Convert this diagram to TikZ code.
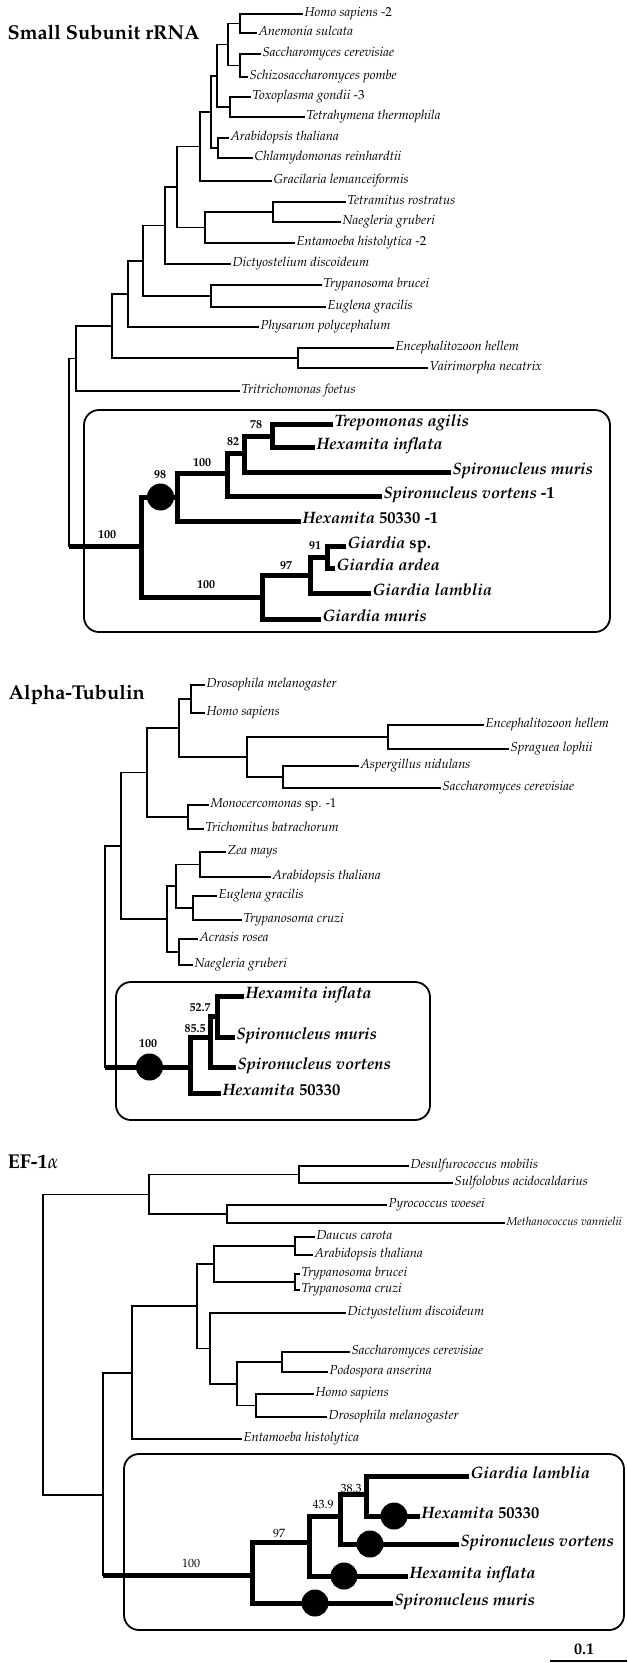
\documentclass[tikz,border=0pt]{standalone}
\usepackage[T1]{fontenc}
\usepackage{mathpazo}
\tikzset{
  leaf/.style={anchor=west,inner sep=1pt,text height=1.3ex,text depth=.3ex,
    font=\fontsize{13}{15}\selectfont\itshape},
  dipleaf/.style={leaf,font=\fontsize{16.5}{18}\selectfont\bfseries\itshape},
  boot/.style={inner sep=0pt,font=\fontsize{12}{13}\selectfont\bfseries},
  plainboot/.style={inner sep=0pt,font=\fontsize{12}{13}\selectfont},
  title/.style={anchor=west,inner sep=0pt,font=\fontsize{20}{22}\selectfont\bfseries},
  dip/.style={line width=5pt},
  clade/.style={line width=1.8pt,rounded corners=15pt},
  blob/.style={circle,fill=black,inner sep=0pt,minimum size=27pt}
}
\begin{document}
\begin{tikzpicture}[x=1pt,y=-1pt,line width=1.2pt]
  \useasboundingbox (0,0) rectangle (627,1663);

  % Small subunit rRNA
  \node[title] (s-title) at (7,32) {Small Subunit rRNA};
  \coordinate (s1) at (240,23.5);
  \coordinate (s2) at (240,65.5);
  \coordinate (s3) at (228,44.5);
  \coordinate (s4) at (230,107);
  \coordinate (s5) at (217,76);
  \coordinate (s6) at (218,148);
  \coordinate (s7) at (211,112);
  \coordinate (s8) at (200,146.5);
  \coordinate (s9) at (273,212);
  \coordinate (s10) at (205,227.5);
  \coordinate (s11) at (177,187);
  \coordinate (s12) at (165,225.5);
  \coordinate (s13) at (211,296);
  \coordinate (s14) at (143,261);
  \coordinate (s15) at (128,294);
  \coordinate (s16) at (298,358);
  \coordinate (s17) at (112,326);
  \coordinate (s18) at (76,358.5);
  \coordinate (s0) at (69,453);
  \coordinate (d1) at (141,546);
  \coordinate (d2) at (177,497);
  \coordinate (d3) at (227,473);
  \coordinate (d4) at (244,453);
  \coordinate (d5) at (272,436);
  \coordinate (d6) at (262,597);
  \coordinate (d7) at (310,575.5);
  \coordinate (d8) at (327,557);
  \node[leaf] (s-hsap) at (303,14) {Homo sapiens \upshape-2};
  \node[leaf] (s-asul) at (257,33) {Anemonia sulcata};
  \node[leaf] (s-scer) at (261,54) {Saccharomyces cerevisiae};
  \node[leaf] (s-spom) at (248,77) {Schizosaccharomyces pombe};
  \node[leaf] (s-tgon) at (251,97) {Toxoplasma gondii \upshape-3};
  \node[leaf] (s-tthe) at (305,117) {Tetrahymena thermophila};
  \node[leaf] (s-atha) at (229,138) {Arabidopsis thaliana};
  \node[leaf] (s-crei) at (253,158) {Chlamydomonas reinhardtii};
  \node[leaf] (s-glem) at (272,181) {Gracilaria lemanceiformis};
  \node[leaf] (s-tros) at (346,202) {Tetramitus rostratus};
  \node[leaf] (s-ngru) at (341,222) {Naegleria gruberi};
  \node[leaf] (s-ehis) at (295,243) {Entamoeba histolytica \upshape-2};
  \node[leaf] (s-ddis) at (231,264) {Dictyostelium discoideum};
  \node[leaf] (s-tbru) at (322,285) {Trypanosoma brucei};
  \node[leaf] (s-egra) at (326,307) {Euglena gracilis};
  \node[leaf] (s-ppol) at (259,327) {Physarum polycephalum};
  \node[leaf] (s-ehel) at (394,348) {Encephalitozoon hellem};
  \node[leaf] (s-vnec) at (428,368) {Vairimorpha necatrix};
  \node[leaf] (s-tfoe) at (240,391) {Tritrichomonas foetus};
  \node[dipleaf] (s-tagi) at (333,424) {Trepomonas agilis};
  \node[dipleaf] (s-hinf) at (315,447) {Hexamita inflata};
  \node[dipleaf] (s-smur) at (451,472) {Spironucleus muris};
  \node[dipleaf] (s-svor) at (382,496) {Spironucleus vortens \upshape-1};
  \node[dipleaf] (s-h503) at (301,521) {Hexamita \upshape 50330 -1};
  \node[dipleaf] (s-gsp) at (346,546) {Giardia \upshape sp.};
  \node[dipleaf] (s-gard) at (335,568) {Giardia ardea};
  \node[dipleaf] (s-glam) at (371,593) {Giardia lamblia};
  \node[dipleaf] (s-gmur) at (321,619) {Giardia muris};
  \begin{scope}
    \draw (s1) |- (s-hsap.west);
    \draw (s1) |- (s-asul.west);
    \draw (s2) |- (s-scer.west);
    \draw (s2) |- (s-spom.west);
    \draw (s3) |- (s1);
    \draw (s3) |- (s2);
    \draw (s4) |- (s-tgon.west);
    \draw (s4) |- (s-tthe.west);
    \draw (s5) |- (s3);
    \draw (s5) |- (s4);
    \draw (s6) |- (s-atha.west);
    \draw (s6) |- (s-crei.west);
    \draw (s7) |- (s5);
    \draw (s7) |- (s6);
    \draw (s8) |- (s7);
    \draw (s8) |- (s-glem.west);
    \draw (s9) |- (s-tros.west);
    \draw (s9) |- (s-ngru.west);
    \draw (s10) |- (s9);
    \draw (s10) |- (s-ehis.west);
    \draw (s11) |- (s8);
    \draw (s11) |- (s10);
    \draw (s12) |- (s11);
    \draw (s12) |- (s-ddis.west);
    \draw (s13) |- (s-tbru.west);
    \draw (s13) |- (s-egra.west);
    \draw (s14) |- (s12);
    \draw (s14) |- (s13);
    \draw (s15) |- (s14);
    \draw (s15) |- (s-ppol.west);
    \draw (s16) |- (s-ehel.west);
    \draw (s16) |- (s-vnec.west);
    \draw (s17) |- (s15);
    \draw (s17) |- (s16);
    \draw (s18) |- (s17);
    \draw (s18) |- (s-tfoe.west);
    \draw (s0) |- (s18);
    \draw (s0) |- (d1);
  \end{scope}
  \begin{scope}[dip]
    \draw (s0 |- d1) -- (d1);
    \draw (d1) |- (d2);
    \draw (d1) |- (d6);
    \draw (d2) |- (d3);
    \draw (d2) |- (s-h503.west);
    \draw (d3) |- (d4);
    \draw (d3) |- (s-svor.west);
    \draw (d4) |- (d5);
    \draw (d4) |- (s-smur.west);
    \draw (d5) |- (s-tagi.west);
    \draw (d5) |- (s-hinf.west);
    \draw (d6) |- (d7);
    \draw (d6) |- (s-gmur.west);
    \draw (d7) |- (d8);
    \draw (d7) |- (s-glam.west);
    \draw (d8) |- (s-gsp.west);
    \draw (d8) |- (s-gard.west);
  \end{scope}
  \node[blob] (s-c1) at (160.5,497) {};
  \node[boot] (s-b1) at (107,535) {100};
  \node[boot] (s-b2) at (160,475) {98};
  \node[boot] (s-b3) at (202,463) {100};
  \node[boot] (s-b4) at (233,442) {82};
  \node[boot] (s-b5) at (256,425) {78};
  \node[boot] (s-b6) at (206,585) {100};
  \node[boot] (s-b7) at (286,566) {97};
  \node[boot] (s-b8) at (315,546) {91};
  \draw[clade] (84,410) rectangle (610,632);

  % Alpha-tubulin
  \node[title] (a-title) at (8,695) {Alpha-Tubulin};
  \coordinate (a1) at (191,699);
  \coordinate (a2) at (388,737);
  \coordinate (a3) at (283,777);
  \coordinate (a4) at (247,757);
  \coordinate (a5) at (179,728);
  \coordinate (a6) at (188,817);
  \coordinate (a7) at (147,772.5);
  \coordinate (a8) at (200,864.5);
  \coordinate (a9) at (193,908);
  \coordinate (a10) at (176,886);
  \coordinate (a11) at (179,952);
  \coordinate (a12) at (167,919);
  \coordinate (a13) at (121,846);
  \coordinate (a0) at (105,955);
  \coordinate (b1) at (190,1067);
  \coordinate (b2) at (210,1037);
  \coordinate (b3) at (217,1016);
  \node[leaf] (a-dmel) at (205,685) {Drosophila melanogaster};
  \node[leaf] (a-hsap) at (205,713) {Homo sapiens};
  \node[leaf] (a-ehel) at (484,725) {Encephalitozoon hellem};
  \node[leaf] (a-splo) at (509,749) {Spraguea lophii};
  \node[leaf] (a-anid) at (359,766) {Aspergillus nidulans};
  \node[leaf] (a-scer) at (441,788) {Saccharomyces cerevisiae};
  \node[leaf] (a-mono) at (209,805) {Monocercomonas \upshape sp. -1};
  \node[leaf] (a-tbat) at (204,829) {Trichomitus batrachorum};
  \node[leaf] (a-zmay) at (226,852) {Zea mays};
  \node[leaf] (a-atha) at (271,877) {Arabidopsis thaliana};
  \node[leaf] (a-egra) at (217,896) {Euglena gracilis};
  \node[leaf] (a-tcru) at (242,920) {Trypanosoma cruzi};
  \node[leaf] (a-aros) at (198,939) {Acrasis rosea};
  \node[leaf] (a-ngru) at (193,965) {Naegleria gruberi};
  \node[dipleaf] (a-hinf) at (244,996) {Hexamita inflata};
  \node[dipleaf] (a-smur) at (235,1037) {Spironucleus muris};
  \node[dipleaf] (a-svor) at (236,1067) {Spironucleus vortens};
  \node[dipleaf] (a-h503) at (221,1093) {Hexamita \upshape 50330};
  \begin{scope}
    \draw (a1) |- (a-dmel.west);
    \draw (a1) |- (a-hsap.west);
    \draw (a2) |- (a-ehel.west);
    \draw (a2) |- (a-splo.west);
    \draw (a3) |- (a-anid.west);
    \draw (a3) |- (a-scer.west);
    \draw (a4) |- (a2);
    \draw (a4) |- (a3);
    \draw (a5) |- (a1);
    \draw (a5) |- (a4);
    \draw (a6) |- (a-mono.west);
    \draw (a6) |- (a-tbat.west);
    \draw (a7) |- (a5);
    \draw (a7) |- (a6);
    \draw (a8) |- (a-zmay.west);
    \draw (a8) |- (a-atha.west);
    \draw (a9) |- (a-egra.west);
    \draw (a9) |- (a-tcru.west);
    \draw (a10) |- (a8);
    \draw (a10) |- (a9);
    \draw (a11) |- (a-aros.west);
    \draw (a11) |- (a-ngru.west);
    \draw (a12) |- (a10);
    \draw (a12) |- (a11);
    \draw (a13) |- (a7);
    \draw (a13) |- (a12);
    \draw (a0) |- (a13);
    \draw (a0) |- (b1);
  \end{scope}
  \begin{scope}[dip]
    \draw (a0 |- b1) -- (b1);
    \draw (b1) |- (b2);
    \draw (b1) |- (a-h503.west);
    \draw (b2) |- (b3);
    \draw (b2) |- (a-svor.west);
    \draw (b3) |- (a-hinf.west);
    \draw (b3) |- (a-smur.west);
  \end{scope}
  \node[blob] (a-c1) at (149.5,1067) {};
  \node[boot] (a-b1) at (148,1044) {100};
  \node[boot] (a-b2) at (200,1008) {52.7};
  \node[boot] (a-b3) at (195,1029) {85.5};
  \draw[clade] (116,982) rectangle (430,1120);

  % EF-1alpha
  \node[title] (e-title) at (7,1162) {EF-1$\alpha$};
  \coordinate (e1) at (299,1174.5);
  \coordinate (e2) at (227,1214);
  \coordinate (e3) at (149,1194.5);
  \coordinate (e4) at (295,1246);
  \coordinate (e5) at (295,1282);
  \coordinate (e6) at (214,1264);
  \coordinate (e8) at (282,1362);
  \coordinate (e9) at (256,1405.5);
  \coordinate (e10) at (237,1384);
  \coordinate (e11) at (210,1348.5);
  \coordinate (e12) at (197,1306);
  \coordinate (e13) at (132,1373);
  \coordinate (e14) at (103,1495);
  \coordinate (e0) at (43,1345);
  \coordinate (f1) at (252,1575);
  \coordinate (f2) at (309,1542);
  \coordinate (f3) at (340,1516);
  \coordinate (f4) at (366,1494);
  \node[leaf] (e-dmob) at (409,1166) {Desulfurococcus mobilis};
  \node[leaf] (e-saci) at (453,1183) {Sulfolobus acidocaldarius};
  \node[leaf] (e-pwoe) at (387,1205) {Pyrococcus woesei};
  \node[leaf,font=\fontsize{11.5}{13}\selectfont\itshape] (e-mvan) at (505,1223) {Methanococcus vannielii};
  \node[leaf] (e-dcar) at (315,1237) {Daucus carota};
  \node[leaf] (e-atha) at (313,1255) {Arabidopsis thaliana};
  \node[leaf] (e-tbru) at (300,1274) {Trypanosoma brucei};
  \node[leaf] (e-tcru) at (300,1290) {Trypanosoma cruzi};
  \node[leaf] (e-ddis) at (346,1313) {Dictyostelium discoideum};
  \node[leaf] (e-scer) at (350,1352) {Saccharomyces cerevisiae};
  \node[leaf] (e-pans) at (328,1372) {Podospora anserina};
  \node[leaf] (e-hsap) at (314,1394) {Homo sapiens};
  \node[leaf] (e-dmel) at (327,1417) {Drosophila melanogaster};
  \node[leaf] (e-ehis) at (242,1439) {Entamoeba histolytica};
  \node[dipleaf] (e-glam) at (469,1476) {Giardia lamblia};
  \node[dipleaf] (e-h503) at (420,1516) {Hexamita \upshape 50330};
  \node[dipleaf] (e-svor) at (459,1544) {Spironucleus vortens};
  \node[dipleaf] (e-hinf) at (408,1576) {Hexamita inflata};
  \node[dipleaf] (e-smur) at (393,1603) {Spironucleus muris};
  \begin{scope}
    \draw (e1) |- (e-dmob.west);
    \draw (e1) |- (e-saci.west);
    \draw (e2) |- (e-pwoe.west);
    \draw (e2) |- (e-mvan.west);
    \draw (e3) |- (e1);
    \draw (e3) |- (e2);
    \draw (e4) |- (e-dcar.west);
    \draw (e4) |- (e-atha.west);
    \draw (e5) |- (e-tbru.west);
    \draw (e5) |- (e-tcru.west);
    \draw (e6) |- (e4);
    \draw (e6) |- (e5);
    \draw (e8) |- (e-scer.west);
    \draw (e8) |- (e-pans.west);
    \draw (e9) |- (e-hsap.west);
    \draw (e9) |- (e-dmel.west);
    \draw (e10) |- (e8);
    \draw (e10) |- (e9);
    \draw (e11) |- (e-ddis.west);
    \draw (e11) |- (e10);
    \draw (e12) |- (e6);
    \draw (e12) |- (e11);
    \draw (e13) |- (e12);
    \draw (e13) |- (e-ehis.west);
    \draw (e14) |- (e13);
    \draw (e14) |- (f1);
    \draw (e0) |- (e3);
    \draw (e0) |- (e14);
  \end{scope}
  \begin{scope}[dip]
    \draw (e14 |- f1) -- (f1);
    \draw (f1) |- (f2);
    \draw (f1) |- (e-smur.west);
    \draw (f2) |- (f3);
    \draw (f2) |- (e-hinf.west);
    \draw (f3) |- (f4);
    \draw (f3) |- (e-svor.west);
    \draw (f4) |- (e-glam.west);
    \draw (f4) |- (e-h503.west);
  \end{scope}
  \node[blob] (e-c1) at (394,1516) {};
  \node[blob] (e-c2) at (370,1544) {};
  \node[blob] (e-c3) at (344,1576) {};
  \node[blob] (e-c4) at (315,1603) {};
  \node[plainboot] (e-b1) at (191,1563) {100};
  \node[plainboot] (e-b2) at (279,1533) {97};
  \node[plainboot] (e-b3) at (323,1504) {43.9};
  \node[plainboot] (e-b4) at (351,1488) {38.3};
  \draw[clade] (124,1454) rectangle (624,1630);

  % scale bar
  \coordinate (bar-l) at (550,1661);
  \coordinate (bar-r) at (627,1661);
  \draw[line width=2pt] (bar-l) -- (bar-r);
  \node[inner sep=0pt,font=\fontsize{16}{17}\selectfont\bfseries] (bar-lab) at (584,1649) {0.1};
\end{tikzpicture}
\end{document}
